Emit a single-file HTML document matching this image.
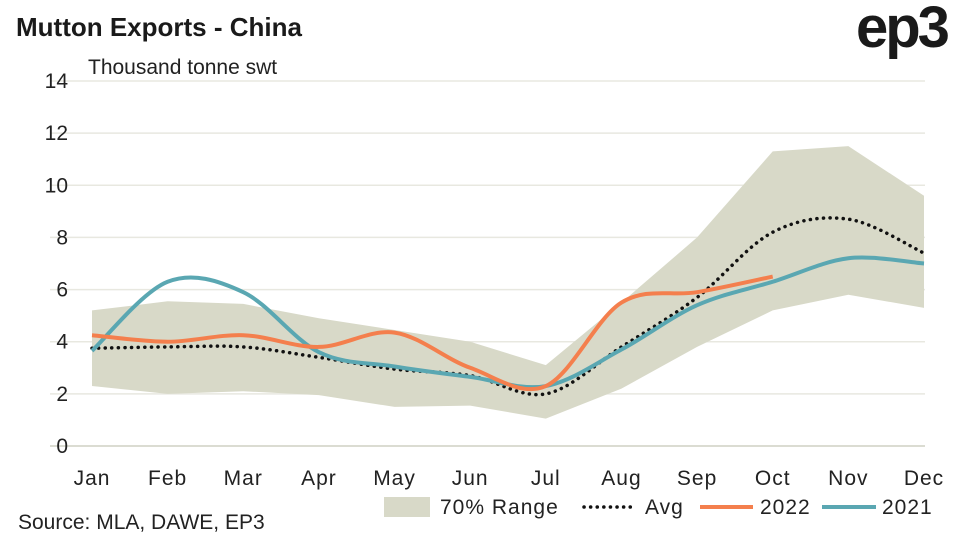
<!DOCTYPE html>
<html><head><meta charset="utf-8"><style>
body{margin:0;background:#fff;font-family:"Liberation Sans",sans-serif}
svg text{font-family:"Liberation Sans",sans-serif}
</style></head><body>
<svg id="chart" width="962" height="541" xmlns="http://www.w3.org/2000/svg">
<text x="16" y="36" font-size="26" font-weight="bold" fill="#1a1a1a">Mutton Exports - China</text>
<text x="856" y="47" font-size="58" font-weight="bold" fill="#1a1a1a" letter-spacing="-3">ep3</text>
<text x="88" y="74" font-size="21" fill="#222">Thousand tonne swt</text>
<g id="grid"></g><g id="marks"></g><g id="axes"></g>
<text x="18" y="529" font-size="21" fill="#222">Source: MLA, DAWE, EP3</text>
<g>
<rect x="384" y="497" width="46" height="20" fill="#d8d9c8"/>
<text x="440" y="514" font-size="21" fill="#222" letter-spacing="1">70% Range</text>
<line x1="584" y1="507" x2="634" y2="507" stroke="#111" stroke-width="3.5" stroke-dasharray="0.1,6.5" stroke-linecap="round"/>
<text x="645" y="514" font-size="21" fill="#222" letter-spacing="1">Avg</text>
<line x1="700" y1="507" x2="753" y2="507" stroke="#f47f4d" stroke-width="4"/>
<text x="760" y="514" font-size="21" fill="#222" letter-spacing="1">2022</text>
<line x1="822" y1="507" x2="876" y2="507" stroke="#5aa7b2" stroke-width="4"/>
<text x="882" y="514" font-size="21" fill="#222" letter-spacing="1">2021</text>
</g>
</svg>
<script>
const months=["Jan","Feb","Mar","Apr","May","Jun","Jul","Aug","Sep","Oct","Nov","Dec"];
const yTicks=[0,2,4,6,8,10,12,14];
const rangeUpper=[5.2,5.55,5.45,4.9,4.45,4.0,3.1,5.5,8.0,11.3,11.5,9.6];
const rangeLower=[2.3,2.0,2.1,1.95,1.5,1.55,1.05,2.2,3.8,5.2,5.8,5.3];
const avg=[3.75,3.8,3.8,3.4,2.95,2.7,2.0,3.8,5.7,8.2,8.7,7.4];
const y2022=[4.25,4.0,4.25,3.8,4.35,3.0,2.3,5.5,5.9,6.5];
const y2021=[3.65,6.3,5.9,3.6,3.05,2.65,2.3,3.7,5.4,6.3,7.2,7.0];
const NS="http://www.w3.org/2000/svg";
const X=i=>92+i*(924-92)/11, Y=v=>446-v*(446-81)/14;
function el(t,a,p){const e=document.createElementNS(NS,t);for(const k in a)e.setAttribute(k,a[k]);document.getElementById(p).appendChild(e);return e;}
function smooth(pts){let d="M"+pts[0][0]+","+pts[0][1];for(let i=0;i<pts.length-1;i++){const p0=pts[i-1]||pts[i],p1=pts[i],p2=pts[i+1],p3=pts[i+2]||p2;const t=6;d+=" C"+(p1[0]+(p2[0]-p0[0])/t)+","+(p1[1]+(p2[1]-p0[1])/t)+" "+(p2[0]-(p3[0]-p1[0])/t)+","+(p2[1]-(p3[1]-p1[1])/t)+" "+p2[0]+","+p2[1];}return d;}
yTicks.forEach(v=>{
 const g=el("line",{x1:50,x2:925,y1:Y(v),y2:Y(v),stroke:v===0?"#cfd0c4":"#e8e8e0","stroke-width":1.5},"grid");
 
 
 const t=el("text",{x:68,y:Y(v)+7,"font-size":21,fill:"#222","text-anchor":"end"},"axes");t.textContent=v;
 
 
});
months.forEach((m,i)=>{const t=el("text",{x:X(i),y:485,"font-size":21,fill:"#222","text-anchor":"middle","letter-spacing":1},"axes");t.textContent=m;
 
 });
const up=rangeUpper.map((v,i)=>[X(i),Y(v)]), lo=rangeLower.map((v,i)=>[X(i),Y(v)]).reverse();
const band=el("path",{d:"M"+up.map(p=>p.join(",")).join(" L")+" L"+lo.map(p=>p.join(",")).join(" L")+"Z",fill:"#d8d9c8"},"marks");


function line(data,attrs,name){const p=el("path",Object.assign({d:smooth(data.map((v,i)=>[X(i),Y(v)])),fill:"none"},attrs),"marks");
 
 }
line(avg,{stroke:"#111","stroke-width":3.5,"stroke-dasharray":"0.1,6.5","stroke-linecap":"round"},"avg-line");
line(y2021,{stroke:"#5aa7b2","stroke-width":4},"line-2021");
line(y2022,{stroke:"#f47f4d","stroke-width":4},"line-2022");
</script>
</body></html>
